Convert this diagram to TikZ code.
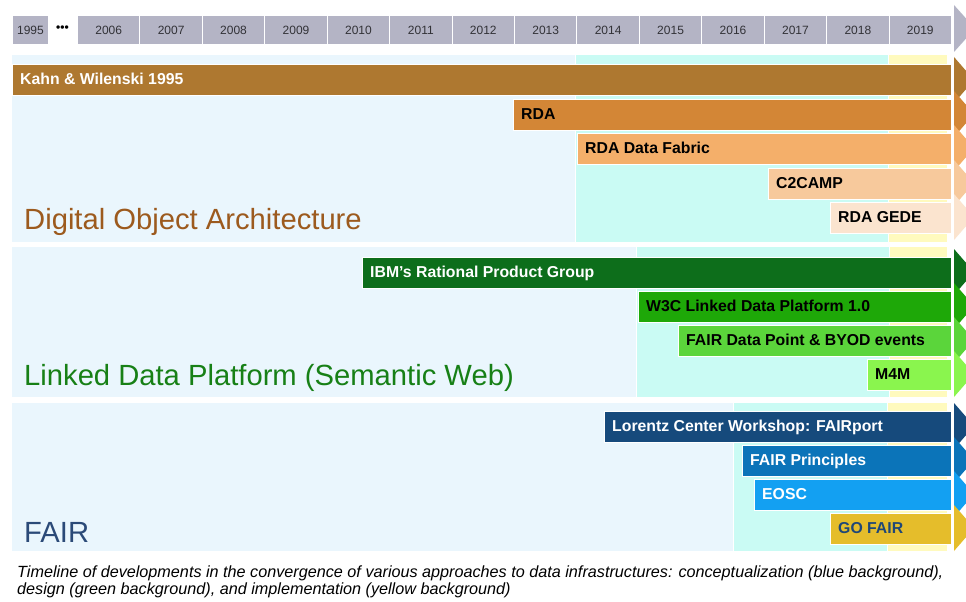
\documentclass[tikz,border=0pt]{standalone}
\usepackage{fontspec}
\setmainfont{Liberation Sans}
\definecolor{hdr}{RGB}{180,180,197}
\definecolor{bgblue}{RGB}{234,246,253}
\definecolor{bgcyan}{RGB}{202,251,244}
\definecolor{bgyellow}{RGB}{255,250,190}
\definecolor{cKahn}{RGB}{174,120,48}
\definecolor{cRDA}{RGB}{211,134,54}
\definecolor{cFab}{RGB}{244,175,106}
\definecolor{cCC}{RGB}{247,201,156}
\definecolor{cGEDE}{RGB}{251,228,207}
\definecolor{cIBM}{RGB}{13,110,27}
\definecolor{cW3C}{RGB}{30,168,8}
\definecolor{cFDP}{RGB}{91,213,59}
\definecolor{cM4M}{RGB}{138,245,78}
\definecolor{cLor}{RGB}{22,74,124}
\definecolor{cFP}{RGB}{11,116,185}
\definecolor{cEOSC}{RGB}{19,160,242}
\definecolor{cGO}{RGB}{229,189,43}
\definecolor{tGO}{RGB}{31,71,120}
\definecolor{tDOA}{RGB}{156,90,30}
\definecolor{tLDP}{RGB}{23,128,22}
\definecolor{tFAIR}{RGB}{43,74,120}
\definecolor{tyear}{RGB}{50,50,55}
\tikzset{
  yearcell/.style={draw=white, line width=1pt, fill=hdr, inner sep=0pt, minimum height=29pt, anchor=north west, text=tyear, font=\fontsize{12}{14}\selectfont},
  barbox/.style={draw=white, line width=0.6pt, inner sep=0pt, minimum height=31pt, anchor=north west},
  bartext/.style={inner sep=0pt, anchor=base west, font=\fontsize{15.8}{18}\bfseries},
  grouptitle/.style={inner sep=0pt, anchor=base west, font=\fontsize{29.2}{33}\selectfont},
  captext/.style={inner sep=0pt, anchor=base west, font=\fontsize{16.2}{18}\itshape},
}
\newcommand{\tlbar}[6]{%
  \pgfmathsetlengthmacro{\bw}{(951-#2)*1pt}%
  \node[barbox, fill=#4, minimum width=\bw] (#1) at (#2,#3) {};
  \node[bartext, text=#5] (#1-t) at (#2+8,#3+20.8) {#6};
}
\newcommand{\tlchev}[2]{%
  \fill[#2] (954,#1-23) -- (974,#1) -- (954,#1+23) -- cycle;
}
\begin{document}
\begin{tikzpicture}[x=1pt,y=-1pt]
\useasboundingbox (0,0) rectangle (966,602);
\clip (0,0) rectangle (966,602);
\fill[white] (0,0) rectangle (966,602);
% header
\node[yearcell, minimum width=36pt] (y1995) at (12,15) {1995};
\node[inner sep=0pt, font=\fontsize{12}{12}\bfseries] (ydots) at (62.5,29) {•••};
\foreach \yr [count=\i from 0] in {2006,...,2019}{
  \pgfmathsetmacro{\xx}{77+62.43*\i}
  \node[yearcell, minimum width=62.43pt] (y\yr) at (\xx,15) {\yr};
}
\fill[hdr] (954,5) -- (975,28.5) -- (954,52) -- cycle;
% group backgrounds
\fill[bgblue] (12,55) rectangle (575,242);
\fill[bgcyan] (576,55) rectangle (888,242);
\fill[bgyellow] (889,55) rectangle (947,242);
\fill[bgblue] (12,247) rectangle (636,397);
\fill[bgcyan] (637,247) rectangle (889,397);
\fill[bgyellow] (890,247) rectangle (947,397);
\fill[bgblue] (12,403) rectangle (733,551);
\fill[bgcyan] (734,403) rectangle (887,551);
\fill[bgyellow] (888,403) rectangle (947,551);
% group 1
\tlbar{kahn}{12}{64}{cKahn}{white}{Kahn \& Wilenski 1995}
\tlbar{rda}{513}{99}{cRDA}{black}{RDA}
\tlbar{fab}{577}{133}{cFab}{black}{RDA Data Fabric}
\tlbar{cc}{768}{168}{cCC}{black}{C2CAMP}
\tlbar{gede}{830}{202}{cGEDE}{black}{RDA GEDE}
\node[grouptitle, text=tDOA] (doa) at (24,229) {Digital Object Architecture};
\tlchev{80}{cKahn}
\tlchev{114}{cRDA}
\tlchev{148}{cFab}
\tlchev{183}{cCC}
\tlchev{217}{cGEDE}
% group 2
\tlbar{ibm}{362}{257}{cIBM}{white}{IBM's Rational Product Group}
\tlbar{w3c}{638}{291}{cW3C}{black}{W3C Linked Data Platform 1.0}
\tlbar{fdp}{678}{325}{cFDP}{black}{FAIR Data Point \& BYOD events}
\tlbar{m4m}{867}{359}{cM4M}{black}{M4M}
\node[grouptitle, text=tLDP] (ldp) at (24,385) {Linked Data Platform (Semantic Web)};
\tlchev{272}{cIBM}
\tlchev{306}{cW3C}
\tlchev{340}{cFDP}
\tlchev{374}{cM4M}
% group 3
\tlbar{lor}{604}{411}{cLor}{white}{Lorentz Center Workshop: FAIRport}
\tlbar{fp}{742}{445}{cFP}{white}{FAIR Principles}
\tlbar{eosc}{754}{479}{cEOSC}{white}{EOSC}
\tlbar{go}{830}{513}{cGO}{tGO}{GO FAIR}
\node[grouptitle, text=tFAIR] (fair) at (24,542) {FAIR};
\tlchev{426}{cLor}
\tlchev{460}{cFP}
\tlchev{494}{cEOSC}
\tlchev{528}{cGO}
% caption
\node[captext] (cap1) at (17,577) {Timeline of developments in the convergence of various approaches to data infrastructures: conceptualization (blue background),};
\node[captext] (cap2) at (17,594) {design (green background), and implementation (yellow background)};
\end{tikzpicture}
\end{document}
